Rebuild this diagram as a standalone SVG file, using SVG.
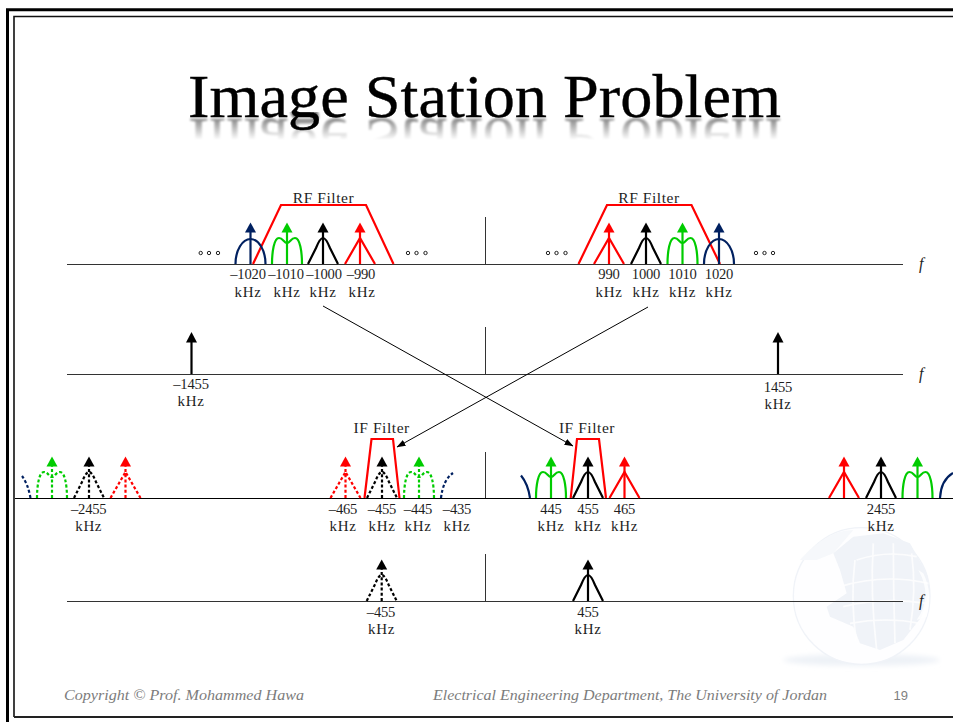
<svg xmlns="http://www.w3.org/2000/svg" xmlns:xlink="http://www.w3.org/1999/xlink" width="953" height="722" viewBox="0 0 953 722">
<style>
text{font-family:"Liberation Serif","Times New Roman",serif;fill:#1e1e1e}
.l{font-size:14.6px;text-anchor:middle;letter-spacing:-.2px}
.k{font-size:15px;text-anchor:middle;letter-spacing:.6px}
.flt{font-size:15.5px;text-anchor:middle;letter-spacing:.55px}
.f{font-size:16px;font-style:italic}
.foot{font-size:15.5px;font-style:italic;fill:#7c7c7c}
.axis{stroke:#333;stroke-width:1;fill:none}
.filter{stroke:#ff0000;stroke-width:2.2;fill:none}
.p{fill:none;stroke-width:2.2}
.d{stroke-dasharray:3 2.2}
.stem{stroke-width:2.2}
.dots circle{fill:#fff;stroke:#222;stroke-width:1}
.bk{stroke:#000;color:#000}.rd{stroke:#ff0000;color:#ff0000}.gr{stroke:#00cc00;color:#00cc00}.bl{stroke:#002060;color:#002060}
</style>
<defs>
<linearGradient id="fadeG" gradientUnits="userSpaceOnUse" x1="0" y1="117" x2="0" y2="140"><stop offset="0" stop-color="#fff" stop-opacity=".5"/><stop offset="1" stop-color="#fff" stop-opacity="0"/></linearGradient>
<mask id="fade" maskUnits="userSpaceOnUse" x="170" y="112" width="630" height="40"><rect x="170" y="112" width="630" height="40" fill="url(#fadeG)"/></mask>
<filter id="soft" x="-5%" y="-20%" width="110%" height="140%"><feGaussianBlur stdDeviation="1"/></filter>
<filter id="blur6" x="-20%" y="-100%" width="140%" height="300%"><feGaussianBlur stdDeviation="8"/></filter>
<marker id="ah" markerWidth="9" markerHeight="7" refX="8.5" refY="3.2" orient="auto" markerUnits="userSpaceOnUse"><path d="M0,0 L9,3.2 L0,6.4 Z" fill="#000"/></marker>
<g id="head"><path d="M-5.5,-31.5 L5.5,-31.5 L0,-41.5 Z" fill="currentColor" stroke="none"/></g>
<g id="bkS"><path class="p" d="M-15,0 L-7,-16 Q-3,-26 0,-26 Q3,-26 7,-16 L15,0"/><path class="stem" d="M0,0 V-33"/><use href="#head"/></g>
<g id="rdS"><path class="p" d="M-15,0 L0,-26 L15,0"/><path class="stem" d="M0,0 V-33"/><use href="#head"/></g>
<g id="grS"><path class="p" d="M-15,0 C-15,-12 -13,-26 -8,-26 C-4,-26 -3,-21 0,-21 C3,-21 4,-26 8,-26 C13,-26 15,-12 15,0"/><path class="stem" d="M0,0 V-33"/><use href="#head"/></g>
<g id="blS"><path class="p" d="M-15,0 C-15,-14 -8,-25 0,-25 C8,-25 15,-14 15,0"/><path class="stem" d="M0,0 V-33"/><use href="#head"/></g>
<g id="bkD"><path class="p d" d="M-15,0 L-7,-16 Q-3,-26 0,-26 Q3,-26 7,-16 L15,0"/><path class="stem d" d="M0,0 V-33"/><use href="#head"/></g>
<g id="rdD"><path class="p d" d="M-15,0 L0,-26 L15,0"/><path class="stem d" d="M0,0 V-33"/><use href="#head"/></g>
<g id="grD"><path class="p d" d="M-15,0 C-15,-12 -13,-26 -8,-26 C-4,-26 -3,-21 0,-21 C3,-21 4,-26 8,-26 C13,-26 15,-12 15,0"/><path class="stem d" d="M0,0 V-33"/><use href="#head"/></g>
</defs>
<rect width="953" height="722" fill="#fff"/>

<g id="frame" fill="none" stroke="#000">
<path d="M7.5,722 V9.7 H953" stroke-width="3"/>
<path d="M14,717 V16.5 H953" stroke-width="1.6" stroke="#111"/>
<path d="M14,717 H953" stroke-width="1.8" stroke="#222"/>
</g>

<g id="globe" transform="translate(770,510) scale(.3333)">
<ellipse cx="275" cy="450" rx="235" ry="18" fill="#eef2f7" filter="url(#blur6)"/>
<circle cx="275" cy="258" r="205" fill="#fefeff" stroke="#f0f3f8" stroke-width="4"/>
<path d="M190,130 L250,80 L340,70 L420,100 L470,190 L480,240 L455,320 L400,390 L330,420 L270,400 L250,350 L180,320 L170,290 L230,250 L210,180 Z" fill="#f0f3f8"/>
<path d="M90,150 Q170,60 250,60 L190,130 L140,150 Z" fill="#f6f8fb"/>
<g fill="none" stroke="#fff" stroke-width="5" opacity=".8">
<path d="M220,290 Q340,260 470,280"/><path d="M210,230 Q340,190 475,220"/><path d="M240,340 Q350,320 450,340"/><path d="M260,150 Q350,120 440,140"/>
<path d="M255,150 Q240,270 260,400"/><path d="M310,100 Q300,250 320,420"/><path d="M370,100 Q370,250 375,400"/><path d="M425,130 Q440,240 420,360"/>
</g>
<path d="M445,180 Q490,260 440,330 L470,320 Q490,250 460,190 Z" fill="#fff" opacity=".8"/>
</g>

<g id="title">
<text id="title-text" x="188" y="117" font-size="62" textLength="593" lengthAdjust="spacingAndGlyphs" style="fill:#000;stroke:#000;stroke-width:.35">Image Station Problem</text>
<g mask="url(#fade)"><use href="#title-text" transform="translate(0,236) scale(1,-1)" filter="url(#soft)"/></g>
</g>

<g id="connectors">
<path class="axis" d="M67,264.5 H903 M485.5,217 V264"/>
<path class="axis" d="M67,374.5 H903 M485.5,327 V374"/>
<path class="axis" d="M15,498.5 H953" style="stroke:#000"/>
<path class="axis" d="M485.5,452 V498"/>
<path class="axis" d="M67,601.5 H903 M485.5,554 V601"/>
<path d="M323,306 L573,446" fill="none" stroke="#000" stroke-width="1" marker-end="url(#ah)"/>
<path d="M648,307 L397,447" fill="none" stroke="#000" stroke-width="1" marker-end="url(#ah)"/>
</g>

<g id="rf-filter-neg"><path class="filter" d="M253,264 L281,205 H366 L393.5,264"/><text class="flt" x="323.5" y="203">RF Filter</text></g>
<g id="rf-filter-pos"><path class="filter" d="M578.5,264 L607,205 H691.5 L720,264"/><text class="flt" x="649" y="203">RF Filter</text></g>
<g id="if-filter-neg"><path class="filter" d="M364.5,498 L371.5,439 H393 L399.5,498"/><text class="flt" x="381.7" y="432.7">IF Filter</text></g>
<g id="if-filter-pos"><path class="filter" d="M570.7,498 L577,439 H599 L606,498"/><text class="flt" x="587" y="432.7">IF Filter</text></g>

<g id="dots-1" class="dots"><circle cx="200.7" cy="253" r="1.7"/><circle cx="209" cy="253" r="1.7"/><circle cx="218" cy="253" r="1.7"/></g>
<g id="dots-2" class="dots"><circle cx="408" cy="253" r="1.7"/><circle cx="416.5" cy="253" r="1.7"/><circle cx="425.5" cy="253" r="1.7"/></g>
<g id="dots-3" class="dots"><circle cx="548" cy="253" r="1.7"/><circle cx="556.5" cy="253" r="1.7"/><circle cx="565.5" cy="253" r="1.7"/></g>
<g id="dots-4" class="dots"><circle cx="756" cy="253" r="1.7"/><circle cx="764.5" cy="253" r="1.7"/><circle cx="773" cy="253" r="1.7"/></g>

<!-- row 1 -->
<g id="n-1020"><use href="#blS" class="bl" x="250.5" y="264"/><text class="l" x="248" y="279">–1020</text><text class="k" x="248" y="297">kHz</text></g>
<g id="n-1010"><use href="#grS" class="gr" x="287" y="264"/><text class="l" x="286" y="279">–1010</text><text class="k" x="287" y="297">kHz</text></g>
<g id="n-1000"><use href="#bkS" class="bk" x="323" y="264"/><text class="l" x="324" y="279">–1000</text><text class="k" x="323" y="297">kHz</text></g>
<g id="n-990"><use href="#rdS" class="rd" x="360" y="264"/><text class="l" x="361" y="279">–990</text><text class="k" x="362" y="297">kHz</text></g>
<g id="n990"><use href="#rdS" class="rd" x="609" y="264"/><text class="l" x="609" y="279">990</text><text class="k" x="609" y="297">kHz</text></g>
<g id="n1000"><use href="#bkS" class="bk" x="646" y="264"/><text class="l" x="646" y="279">1000</text><text class="k" x="646" y="297">kHz</text></g>
<g id="n1010"><use href="#grS" class="gr" x="682.5" y="264"/><text class="l" x="682.5" y="279">1010</text><text class="k" x="682.5" y="297">kHz</text></g>
<g id="n1020"><use href="#blS" class="bl" x="719" y="264"/><text class="l" x="719" y="279">1020</text><text class="k" x="719" y="297">kHz</text></g>
<text class="f" x="919" y="269">f</text>

<!-- row 2 -->
<g id="n-1455"><path class="stem" stroke="#000" d="M191.5,374 V341"/><path d="M186,342.5 H197 L191.5,332 Z" fill="#000"/><text class="l" x="191" y="389">–1455</text><text class="k" x="191" y="406">kHz</text></g>
<g id="n1455"><path class="stem" stroke="#000" d="M778,374 V341"/><path d="M772.5,342.5 H783.5 L778,332 Z" fill="#000"/><text class="l" x="778" y="392">1455</text><text class="k" x="778" y="409">kHz</text></g>
<text class="f" x="919" y="379">f</text>

<!-- row 3 -->
<path id="blue-far-neg" class="p d bl" d="M22,476 Q28,484 30.5,498"/>
<use id="g-2465" href="#grD" class="gr" x="52" y="498"/>
<g id="n-2455"><use href="#bkD" class="bk" x="89" y="498"/><text class="l" x="88.7" y="514">–2455</text><text class="k" x="88.7" y="531">kHz</text></g>
<use id="r-2445" href="#rdD" class="rd" x="125.5" y="498"/>
<g id="n-465"><use href="#rdD" class="rd" x="345.5" y="498"/><text class="l" x="343" y="514">–465</text><text class="k" x="343" y="531">kHz</text></g>
<g id="n-455a"><use href="#bkD" class="bk" x="382" y="498"/><text class="l" x="382" y="514">–455</text><text class="k" x="382" y="531">kHz</text></g>
<g id="n-445"><use href="#grD" class="gr" x="419" y="498"/><text class="l" x="418" y="514">–445</text><text class="k" x="418" y="531">kHz</text></g>
<g id="n-435"><path class="p d bl" d="M441,498 Q443,480 453,473"/><text class="l" x="457" y="514">–435</text><text class="k" x="457" y="531">kHz</text></g>
<path id="blue-435" class="p bl" d="M521,475.5 Q528,484 530,498"/>
<g id="n445"><use href="#grS" class="gr" x="551" y="498"/><text class="l" x="551" y="514">445</text><text class="k" x="551" y="531">kHz</text></g>
<g id="n455a"><use href="#bkS" class="bk" x="588" y="498"/><text class="l" x="588" y="514">455</text><text class="k" x="588" y="531">kHz</text></g>
<g id="n465"><use href="#rdS" class="rd" x="624.5" y="498"/><text class="l" x="624.5" y="514">465</text><text class="k" x="624.5" y="531">kHz</text></g>
<use id="r2445" href="#rdS" class="rd" x="844" y="498"/>
<g id="n2455"><use href="#bkS" class="bk" x="881" y="498"/><text class="l" x="881" y="514">2455</text><text class="k" x="881" y="531">kHz</text></g>
<use id="g2465" href="#grS" class="gr" x="917.5" y="498"/>
<path id="blue-far-pos" class="p bl" d="M940,498 Q941,480 953,473"/>

<!-- row 4 -->
<g id="n-455b"><use href="#bkD" class="bk" x="381.7" y="601"/><text class="l" x="381" y="617">–455</text><text class="k" x="381.5" y="634">kHz</text></g>
<g id="n455b"><use href="#bkS" class="bk" x="588" y="601"/><text class="l" x="588" y="617">455</text><text class="k" x="588" y="634">kHz</text></g>
<text class="f" x="919" y="606">f</text>

<g id="footer">
<text class="foot" x="64" y="700" textLength="240" lengthAdjust="spacingAndGlyphs">Copyright © Prof. Mohammed Hawa</text>
<text class="foot" x="433" y="700" textLength="394" lengthAdjust="spacingAndGlyphs">Electrical Engineering Department, The University of Jordan</text>
<text x="893.5" y="700" style="font-family:'Liberation Sans',Arial,sans-serif;font-size:13px;fill:#7f7f7f">19</text>
</g>
</svg>
